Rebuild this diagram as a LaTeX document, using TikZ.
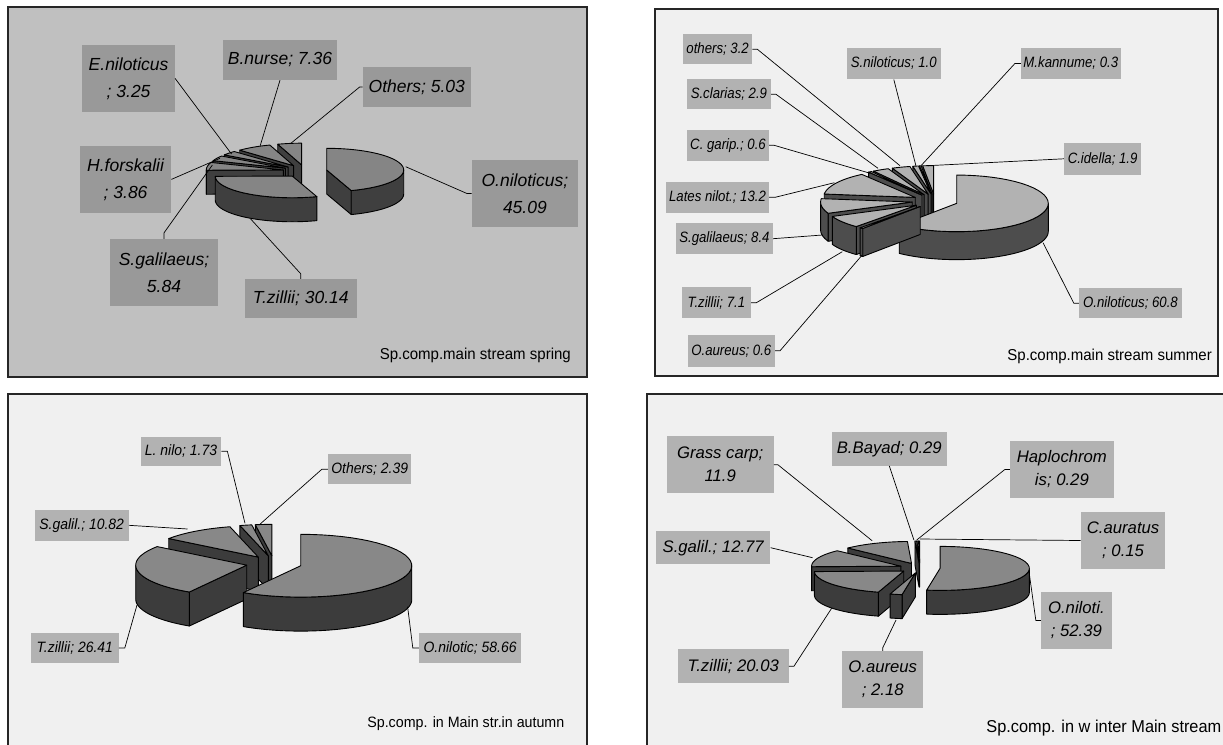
\documentclass[tikz,border=0pt]{standalone}
\usepackage{fontspec}
\setmainfont{Liberation Sans}
\newfontfamily\narrowfont[FakeStretch=0.88]{Liberation Sans}
\newfontfamily\midfont[FakeStretch=0.93]{Liberation Sans}
\newfontfamily\capfont[FakeStretch=0.95]{Liberation Sans}

\definecolor{sprbg}{HTML}{C0C0C0}
\definecolor{sprbox}{HTML}{999999}
\definecolor{sprtop}{HTML}{858585}
\definecolor{sprside}{HTML}{3F3F3F}
\definecolor{litebg}{HTML}{F0F0F0}
\definecolor{litebox}{HTML}{B2B2B2}
\definecolor{sumtop}{HTML}{B2B2B2}
\definecolor{sumside}{HTML}{4D4D4D}
\definecolor{auttop}{HTML}{888888}
\definecolor{autside}{HTML}{3C3C3C}

% one slice of a 3D pie: #1 = cumulative value at start, #2 = at end
% (pie set by \pcx \pcy \prx \pry \ph \pe \ptot)
\newcommand{\pieslice}[2]{%
  \pgfmathsetmacro\slhi{90-#1/\ptot*360}%
  \pgfmathsetmacro\sllo{90-#2/\ptot*360}%
  \pgfmathsetmacro\slmid{(\slhi+\sllo)/2}%
  \pgfmathsetmacro\slcx{\pcx+\pe*cos(\slmid)}%
  \pgfmathsetmacro\slcy{\pcy-\pe*\pry/\prx*sin(\slmid)}%
  \pgfmathsetmacro\slca{cos(\slhi)}%
  \ifdim\slca pt<0pt
    \filldraw[pieside] (\slcx,\slcy) -- ({\slcx+\prx*cos(\slhi)},{\slcy-\pry*sin(\slhi)}) -- ++(0,\ph) -- ({\slcx},{\slcy+\ph}) -- cycle;
  \fi
  \pgfmathsetmacro\slcb{cos(\sllo)}%
  \ifdim\slcb pt>0pt
    \filldraw[pieside] (\slcx,\slcy) -- ({\slcx+\prx*cos(\sllo)},{\slcy-\pry*sin(\sllo)}) -- ++(0,\ph) -- ({\slcx},{\slcy+\ph}) -- cycle;
  \fi
  \pgfmathsetmacro\slwa{max(\sllo,-180)}%
  \pgfmathsetmacro\slwb{min(\slhi,0)}%
  \ifdim\slwa pt<\slwb pt
    \filldraw[pieside] plot[domain=\slwa:\slwb,samples=40] ({\slcx+\prx*cos(\x)},{\slcy-\pry*sin(\x)})
      -- plot[domain=\slwb:\slwa,samples=40] ({\slcx+\prx*cos(\x)},{\slcy-\pry*sin(\x)+\ph}) -- cycle;
  \fi
  \filldraw[pietop] (\slcx,\slcy) -- plot[domain=\sllo:\slhi,samples=40] ({\slcx+\prx*cos(\x)},{\slcy-\pry*sin(\x)}) -- cycle;
}

\begin{document}
\begin{tikzpicture}[
        x=1pt, y=-1pt,
        frame/.style={draw=black!85, line width=1.4pt},
        lbl/.style={inner sep=0pt, align=center, fill=litebox},
        leader/.style={draw=black, line width=0.7pt},
        captext/.style={anchor=east, inner sep=0pt},
        pietop/.style={fill=auttop, draw=black, line width=0.9pt, line join=round},
        pieside/.style={fill=autside, draw=black, line width=0.9pt, line join=round}
    ]
    \fill[white] (0,0) rectangle (1223,744);
    \useasboundingbox (0,0) rectangle (1223,744);
    \clip (0,0) rectangle (1223,744);

    % spring
    \begin{scope}[
            pietop/.append style={fill=sprtop},
            pieside/.append style={fill=sprside},
            lbl/.append style={fill=sprbox, font=\fontsize{17.5}{27}\selectfont\itshape}
        ]
        \filldraw[frame, fill=sprbg] (8,7) rectangle (587,377);
        \def\pcx{305}\def\pcy{171}\def\prx{77}\def\pry{21.7}\def\ph{24}\def\pe{22}\def\ptot{100.57}
        \pieslice{95.54}{100.57}
        \pieslice{88.18}{95.54}
        \pieslice{84.93}{88.18}
        \pieslice{81.07}{84.93}
        \pieslice{75.23}{81.07}
        \pieslice{0}{45.09}
        \pieslice{45.09}{75.23}

        \node[lbl, minimum width=92.6, minimum height=66.7] (enil) at (128.6,78.4) {E.niloticus\\; 3.25};
        \node[lbl, minimum width=113.7, minimum height=40] (bnur) at (280,60) {B.nurse; 7.36};
        \node[lbl, minimum width=107.9, minimum height=39.4] (oth) at (416.8,87) {Others; 5.03};
        \node[lbl, minimum width=106, minimum height=66.7] (onil) at (524.9,193.4) {O.niloticus;\\45.09};
        \node[lbl, minimum width=91.1, minimum height=66.7] (hfor) at (125.6,179.4) {H.forskalii\\; 3.86};
        \node[lbl, minimum width=108.3, minimum height=66.7] (sgal) at (164,272.4) {S.galilaeus;\\5.84};
        \node[lbl, minimum width=111.8, minimum height=39.3] (tzil) at (300.8,298.7) {T.zillii; 30.14};

        \coordinate (enilp) at (231.5,154);
        \coordinate (bnurp) at (260.2,145.7);
        \coordinate (othp) at (290.9,143.3);
        \coordinate (onilp) at (405.7,166.7);
        \coordinate (hforp) at (220,158.3);
        \coordinate (sgalp) at (212.4,165);
        \coordinate (tzilp) at (250.7,219);

        \draw[leader] (enil.east) -- (enilp);
        \draw[leader] (bnur.south) -- (bnurp);
        \draw[leader] (oth.west) -- ++(-3,0) -- (othp);
        \draw[leader] (onil.west) -- ++(-5,0) -- (onilp);
        \draw[leader] (hfor.east) -- (hforp);
        \draw[leader] (sgal.north) -- ++(0,-6) -- (sgalp);
        \draw[leader] (tzil.north) -- ++(0,-5) -- (tzilp);

        \node[captext, font=\capfont\fontsize{15.8}{19}\selectfont] (capspr) at (571,355) {Sp.comp.main stream spring};
    \end{scope}

    % summer
    \begin{scope}[
            pietop/.append style={fill=sumtop},
            pieside/.append style={fill=sumside},
            lbl/.append style={font=\narrowfont\itshape\fontsize{15}{18}\selectfont}
        ]
        \filldraw[frame, fill=litebg] (655,9) rectangle (1218,376);
        \def\pcx{935}\def\pcy{201}\def\prx{91.6}\def\pry{28.3}\def\ph{28}\def\pe{23}\def\ptot{100}
        \pieslice{98.1}{100}
        \pieslice{97.8}{98.1}
        \pieslice{96.8}{97.8}
        \pieslice{93.6}{96.8}
        \pieslice{90.7}{93.6}
        \pieslice{90.1}{90.7}
        \pieslice{76.9}{90.1}
        \pieslice{68.5}{76.9}
        \pieslice{0}{60.8}
        \pieslice{61.4}{68.5}
        \pieslice{60.8}{61.4}

        \node[lbl, minimum width=69.2, minimum height=30] (soth) at (717.6,49.3) {others; 3.2};
        \node[lbl, minimum width=83.8, minimum height=30] (scla) at (728.9,94.3) {S.clarias; 2.9};
        \node[lbl, minimum width=81.9, minimum height=30.7] (cgar) at (728,145.3) {C. garip.; 0.6};
        \node[lbl, minimum width=102.9, minimum height=30.7] (lnil) at (717.5,197.3) {Lates nilot.; 13.2};
        \node[lbl, minimum width=96.9, minimum height=30.7] (ssga) at (724.4,238.7) {S.galilaeus; 8.4};
        \node[lbl, minimum width=69.2, minimum height=31] (stzi) at (716.4,302.8) {T.zillii; 7.1};
        \node[lbl, minimum width=87, minimum height=31.7] (saur) at (731.3,350.8) {O.aureus; 0.6};
        \node[lbl, minimum width=93.4, minimum height=31.6] (snil) at (893.8,63.5) {S.niloticus; 1.0};
        \node[lbl, minimum width=99.4, minimum height=31.6] (mkan) at (1070.8,63.5) {M.kannume; 0.3};
        \node[lbl, minimum width=77.1, minimum height=32.3] (cide) at (1102.6,158.8) {C.idella; 1.9};
        \node[lbl, minimum width=102.9, minimum height=30] (sonil) at (1130.5,303.3) {O.niloticus; 60.8};

        \coordinate (sothp) at (900,165.7);
        \coordinate (sclap) at (878,168.3);
        \coordinate (cgarp) at (870.2,173.3);
        \coordinate (lnilp) at (834.4,182.7);
        \coordinate (ssgap) at (822.5,235);
        \coordinate (stzip) at (842.3,251.7);
        \coordinate (saurp) at (862.2,255);
        \coordinate (snilp) at (915.9,165.7);
        \coordinate (mkanp) at (921,165.7);
        \coordinate (cidep) at (927.8,165.7);
        \coordinate (sonilp) at (1043,242.7);

        \draw[leader] (soth.east) -- ++(5,0) -- (sothp);
        \draw[leader] (scla.east) -- ++(5,0) -- (sclap);
        \draw[leader] (cgar.east) -- ++(5,0) -- (cgarp);
        \draw[leader] (lnil.east) -- ++(6,0) -- (lnilp);
        \draw[leader] (ssga.east) -- (ssgap);
        \draw[leader] (stzi.east) -- ++(5,0) -- (stzip);
        \draw[leader] (saur.east) -- ++(5,0) -- (saurp);
        \draw[leader] (snil.south) -- (snilp);
        \draw[leader] (mkan.west) -- ++(-6,0) -- (mkanp);
        \draw[leader] (cide.west) -- (cidep);
        \draw[leader] (sonil.west) -- ++(-5,0) -- (sonilp);

        \node[captext, font=\capfont\fontsize{15.8}{19}\selectfont] (capsum) at (1212,356.7) {Sp.comp.main stream summer};
    \end{scope}

    % autumn
    \begin{scope}[
            lbl/.append style={font=\midfont\itshape\fontsize{15}{18}\selectfont}
        ]
        \filldraw[frame, fill=litebg] (8,394) rectangle (587,770);
        \def\pcx{274}\def\pcy{563.6}\def\prx{111}\def\pry{31.4}\def\ph{34}\def\pe{27.8}\def\ptot{100.01}
        \pieslice{97.62}{100.01}
        \pieslice{95.89}{97.62}
        \pieslice{85.07}{95.89}
        \pieslice{58.66}{85.07}
        \pieslice{0}{58.66}

        \node[lbl, minimum width=80.4, minimum height=29.3] (alni) at (181,451.3) {L. nilo; 1.73};
        \node[lbl, minimum width=83.4, minimum height=30] (aoth) at (369.7,469.3) {Others; 2.39};
        \node[lbl, minimum width=93.8, minimum height=30.7] (agal) at (81.7,525.3) {S.galil.; 10.82};
        \node[lbl, minimum width=87.6, minimum height=30.6] (azil) at (74.8,648) {T.zillii; 26.41};
        \node[lbl, minimum width=102.2, minimum height=30.6] (anil) at (470.1,648) {O.nilotic; 58.66};

        \coordinate (alnip) at (245,523.3);
        \coordinate (aothp) at (260.2,524);
        \coordinate (agalp) at (187.5,529);
        \coordinate (azilp) at (137,605);
        \coordinate (anilp) at (407.6,606.7);

        \draw[leader] (alni.east) -- ++(6,0) -- (alnip);
        \draw[leader] (aoth.west) -- ++(-6,0) -- (aothp);
        \draw[leader] (agal.east) -- (agalp);
        \draw[leader] (azil.east) -- ++(6,0) -- (azilp);
        \draw[leader] (anil.west) -- ++(-6,0) -- (anilp);

        \node[captext, font=\capfont\fontsize{15}{18}\selectfont] (capaut) at (564.5,723.3) {Sp.comp. in Main str.in autumn};
    \end{scope}

    % winter
    \begin{scope}[
            lbl/.append style={font=\fontsize{16.7}{23}\selectfont\itshape}
        ]
        \filldraw[frame, fill=litebg] (647,394) rectangle (1240,770);
        \def\pcx{919.8}\def\pcy{568}\def\prx{89.3}\def\pry{22}\def\ph{24}\def\pe{20.3}\def\ptot{100}
        \pieslice{99.85}{100}
        \pieslice{99.56}{99.85}
        \pieslice{99.27}{99.56}
        \pieslice{87.37}{99.27}
        \pieslice{74.6}{87.37}
        \pieslice{0}{52.39}
        \pieslice{54.57}{74.6}
        \pieslice{52.39}{54.57}

        \node[lbl, minimum width=106.9, minimum height=57.3] (wgra) at (720.2,464.7) {Grass carp;\\11.9};
        \node[lbl, minimum width=114.5, minimum height=33.4] (wbay) at (889.3,449) {B.Bayad; 0.29};
        \node[lbl, minimum width=103.7, minimum height=57.6] (whap) at (1061.9,469.5) {Haplochrom\\is; 0.29};
        \node[lbl, minimum width=84.7, minimum height=57.6] (wcau) at (1123.1,540.5) {C.auratus\\; 0.15};
        \node[lbl, minimum width=114.4, minimum height=33.3] (wgal) at (713.2,547.7) {S.galil.; 12.77};
        \node[lbl, minimum width=70.7, minimum height=57.6] (wnil) at (1076.4,620.5) {O.niloti.\\; 52.39};
        \node[lbl, minimum width=110.8, minimum height=34] (wzil) at (733.3,666.3) {T.zillii; 20.03};
        \node[lbl, minimum width=81.4, minimum height=57.3] (waur) at (882.7,679.7) {O.aureus\\; 2.18};

        \coordinate (wgrap) at (872.1,540.7);
        \coordinate (wbayp) at (913.9,540);
        \coordinate (whapp) at (916.7,540);
        \coordinate (wcaup) at (919.8,539);
        \coordinate (wgalp) at (812.6,557.7);
        \coordinate (wnilp) at (1029,571.7);
        \coordinate (wzilp) at (831.6,608.3);
        \coordinate (waurp) at (896,620);

        \draw[leader] (wgra.east) -- ++(4,0) -- (wgrap);
        \draw[leader] (wbay.south) -- (wbayp);
        \draw[leader] (whap.west) -- ++(-5,0) -- (whapp);
        \draw[leader] (wcau.west) -- (wcaup);
        \draw[leader] (wgal.east) -- (wgalp);
        \draw[leader] (wnil.west) -- ++(-5,0) -- (wnilp);
        \draw[leader] (wzil.east) -- ++(5,0) -- (wzilp);
        \draw[leader] (waur.north) -- ++(0,-3) -- (waurp);

        \node[captext, font=\capfont\fontsize{17.2}{20}\selectfont] (capwin) at (1221.5,728.3) {Sp.comp. in w inter Main stream};
    \end{scope}

\end{tikzpicture}
\end{document}
